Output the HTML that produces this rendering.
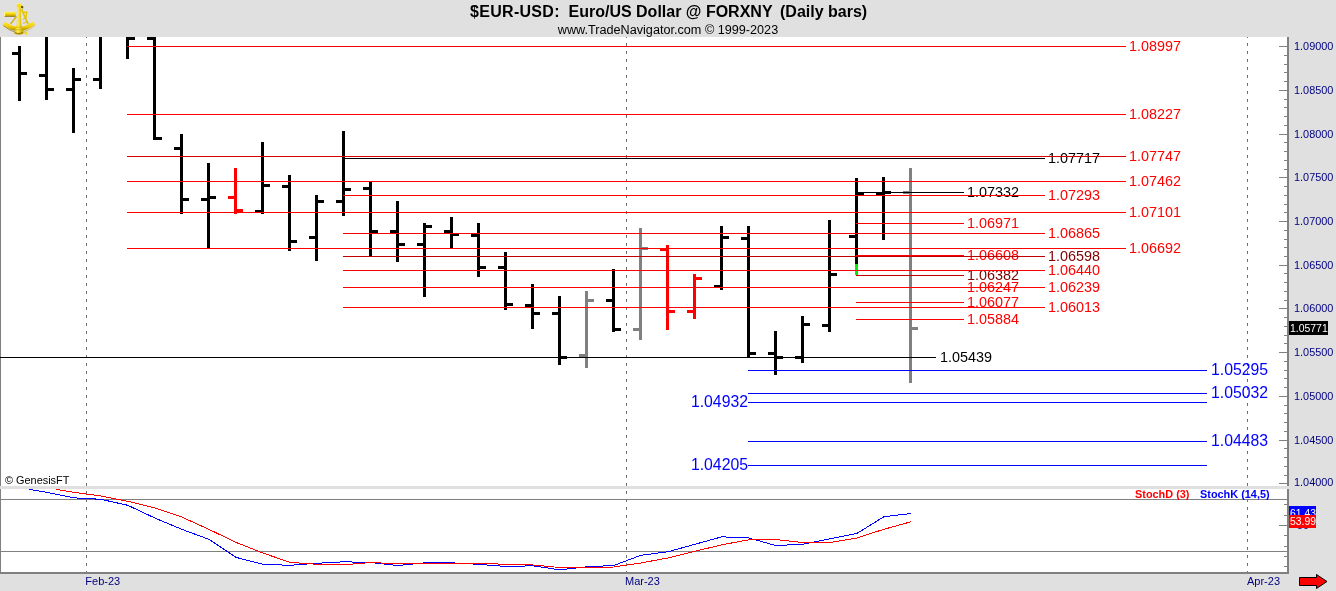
<!DOCTYPE html><html><head><meta charset="utf-8"><title>$EUR-USD Daily</title>
<style>html,body{margin:0;padding:0;background:#e0e0e0;overflow:hidden}svg{display:block}text{font-family:"Liberation Sans",Arial,sans-serif}</style></head><body>
<svg width="1336" height="591" viewBox="0 0 1336 591">
<rect x="0" y="0" width="1336" height="591" fill="#e0e0e0"/>
<rect x="0" y="37" width="1289" height="536" fill="#ffffff"/>
<g shape-rendering="crispEdges">
<rect x="0" y="37" width="1" height="537" fill="#808080"/>
<line x1="86.5" y1="35" x2="86.5" y2="573" stroke="#707070" stroke-width="1" stroke-dasharray="3,5"/>
<line x1="626.5" y1="35" x2="626.5" y2="573" stroke="#707070" stroke-width="1" stroke-dasharray="3,5"/>
<line x1="1247.5" y1="35" x2="1247.5" y2="573" stroke="#707070" stroke-width="1" stroke-dasharray="3,5"/>
<rect x="0" y="0" width="1336" height="37" fill="#e0e0e0"/>
<rect x="1" y="499" width="1286" height="1" fill="#808080"/>
<rect x="1" y="551" width="1286" height="1" fill="#808080"/>
<rect x="18" y="46" width="3" height="55" fill="#000000"/>
<rect x="12" y="52" width="6" height="3" fill="#000000"/>
<rect x="21" y="72" width="6" height="3" fill="#000000"/>
<rect x="45" y="37" width="3" height="63" fill="#000000"/>
<rect x="39" y="74" width="6" height="3" fill="#000000"/>
<rect x="48" y="88" width="6" height="3" fill="#000000"/>
<rect x="72" y="68" width="3" height="65" fill="#000000"/>
<rect x="66" y="88" width="6" height="3" fill="#000000"/>
<rect x="75" y="78" width="6" height="3" fill="#000000"/>
<rect x="99" y="37" width="3" height="52" fill="#000000"/>
<rect x="93" y="78" width="6" height="3" fill="#000000"/>
<rect x="126" y="37" width="3" height="22" fill="#000000"/>
<rect x="129" y="37" width="6" height="3" fill="#000000"/>
<rect x="153" y="37" width="3" height="103" fill="#000000"/>
<rect x="147" y="37" width="6" height="3" fill="#000000"/>
<rect x="156" y="137" width="6" height="3" fill="#000000"/>
<rect x="180" y="134" width="3" height="80" fill="#000000"/>
<rect x="174" y="147" width="6" height="3" fill="#000000"/>
<rect x="183" y="198" width="6" height="3" fill="#000000"/>
<rect x="207" y="163" width="3" height="85" fill="#000000"/>
<rect x="201" y="198" width="6" height="3" fill="#000000"/>
<rect x="210" y="196" width="6" height="3" fill="#000000"/>
<rect x="234" y="168" width="3" height="46" fill="#ff0000"/>
<rect x="228" y="196" width="6" height="3" fill="#ff0000"/>
<rect x="237" y="209" width="6" height="3" fill="#ff0000"/>
<rect x="261" y="142" width="3" height="72" fill="#000000"/>
<rect x="255" y="210" width="6" height="3" fill="#000000"/>
<rect x="264" y="184" width="6" height="3" fill="#000000"/>
<rect x="288" y="175" width="3" height="76" fill="#000000"/>
<rect x="282" y="185" width="6" height="3" fill="#000000"/>
<rect x="291" y="240" width="6" height="3" fill="#000000"/>
<rect x="315" y="195" width="3" height="66" fill="#000000"/>
<rect x="309" y="236" width="6" height="3" fill="#000000"/>
<rect x="318" y="200" width="6" height="3" fill="#000000"/>
<rect x="342" y="131" width="3" height="85" fill="#000000"/>
<rect x="336" y="200" width="6" height="3" fill="#000000"/>
<rect x="345" y="188" width="6" height="3" fill="#000000"/>
<rect x="369" y="182" width="3" height="74" fill="#000000"/>
<rect x="363" y="187" width="6" height="3" fill="#000000"/>
<rect x="372" y="230" width="6" height="3" fill="#000000"/>
<rect x="396" y="201" width="3" height="61" fill="#000000"/>
<rect x="390" y="230" width="6" height="3" fill="#000000"/>
<rect x="399" y="243" width="6" height="3" fill="#000000"/>
<rect x="423" y="223" width="3" height="74" fill="#000000"/>
<rect x="417" y="243" width="6" height="3" fill="#000000"/>
<rect x="426" y="225" width="6" height="3" fill="#000000"/>
<rect x="450" y="217" width="3" height="31" fill="#000000"/>
<rect x="444" y="230" width="6" height="3" fill="#000000"/>
<rect x="453" y="233" width="6" height="3" fill="#000000"/>
<rect x="477" y="223" width="3" height="54" fill="#000000"/>
<rect x="471" y="234" width="6" height="3" fill="#000000"/>
<rect x="480" y="266" width="6" height="3" fill="#000000"/>
<rect x="504" y="252" width="3" height="58" fill="#000000"/>
<rect x="498" y="266" width="6" height="3" fill="#000000"/>
<rect x="507" y="303" width="6" height="3" fill="#000000"/>
<rect x="531" y="284" width="3" height="45" fill="#000000"/>
<rect x="525" y="304" width="6" height="3" fill="#000000"/>
<rect x="534" y="312" width="6" height="3" fill="#000000"/>
<rect x="558" y="296" width="3" height="69" fill="#000000"/>
<rect x="552" y="312" width="6" height="3" fill="#000000"/>
<rect x="561" y="356" width="6" height="3" fill="#000000"/>
<rect x="585" y="291" width="3" height="77" fill="#808080"/>
<rect x="579" y="354" width="6" height="3" fill="#808080"/>
<rect x="588" y="299" width="6" height="3" fill="#808080"/>
<rect x="612" y="269" width="3" height="63" fill="#000000"/>
<rect x="606" y="299" width="6" height="3" fill="#000000"/>
<rect x="615" y="328" width="6" height="3" fill="#000000"/>
<rect x="639" y="228" width="3" height="112" fill="#808080"/>
<rect x="633" y="328" width="6" height="3" fill="#808080"/>
<rect x="642" y="247" width="6" height="3" fill="#808080"/>
<rect x="666" y="245" width="3" height="85" fill="#ff0000"/>
<rect x="660" y="248" width="6" height="3" fill="#ff0000"/>
<rect x="669" y="310" width="6" height="3" fill="#ff0000"/>
<rect x="693" y="274" width="3" height="45" fill="#ff0000"/>
<rect x="687" y="310" width="6" height="3" fill="#ff0000"/>
<rect x="696" y="277" width="6" height="3" fill="#ff0000"/>
<rect x="720" y="226" width="3" height="64" fill="#000000"/>
<rect x="714" y="285" width="6" height="3" fill="#000000"/>
<rect x="723" y="236" width="6" height="3" fill="#000000"/>
<rect x="747" y="226" width="3" height="132" fill="#000000"/>
<rect x="741" y="237" width="6" height="3" fill="#000000"/>
<rect x="750" y="352" width="6" height="3" fill="#000000"/>
<rect x="774" y="331" width="3" height="44" fill="#000000"/>
<rect x="768" y="352" width="6" height="3" fill="#000000"/>
<rect x="777" y="356" width="6" height="3" fill="#000000"/>
<rect x="801" y="316" width="3" height="47" fill="#000000"/>
<rect x="795" y="356" width="6" height="3" fill="#000000"/>
<rect x="804" y="323" width="6" height="3" fill="#000000"/>
<rect x="828" y="220" width="3" height="112" fill="#000000"/>
<rect x="822" y="324" width="6" height="3" fill="#000000"/>
<rect x="831" y="273" width="6" height="3" fill="#000000"/>
<rect x="855" y="178" width="3" height="97" fill="#000000"/>
<rect x="849" y="235" width="6" height="3" fill="#000000"/>
<rect x="858" y="192" width="6" height="3" fill="#000000"/>
<rect x="882" y="177" width="3" height="63" fill="#000000"/>
<rect x="876" y="192" width="6" height="3" fill="#000000"/>
<rect x="885" y="191" width="6" height="3" fill="#000000"/>
<rect x="909" y="168" width="3" height="215" fill="#808080"/>
<rect x="903" y="191" width="6" height="3" fill="#808080"/>
<rect x="912" y="327" width="6" height="3" fill="#808080"/>
<rect x="855" y="264" width="3" height="11" fill="#00f000"/>
</g>
<text x="1129" y="51.2" font-size="15" textLength="52.05" lengthAdjust="spacingAndGlyphs" fill="#ff0000">1.08997</text>
<text x="1129" y="119.2" font-size="15" textLength="52.05" lengthAdjust="spacingAndGlyphs" fill="#ff0000">1.08227</text>
<text x="1048" y="163.2" font-size="15" textLength="52.05" lengthAdjust="spacingAndGlyphs" fill="#000000">1.07717</text>
<text x="1129" y="161.2" font-size="15" textLength="52.05" lengthAdjust="spacingAndGlyphs" fill="#ff0000">1.07747</text>
<text x="1129" y="186.2" font-size="15" textLength="52.05" lengthAdjust="spacingAndGlyphs" fill="#ff0000">1.07462</text>
<text x="967" y="197.2" font-size="15" textLength="52.05" lengthAdjust="spacingAndGlyphs" fill="#000000">1.07332</text>
<text x="1048" y="200.2" font-size="15" textLength="52.05" lengthAdjust="spacingAndGlyphs" fill="#ff0000">1.07293</text>
<text x="1129" y="217.2" font-size="15" textLength="52.05" lengthAdjust="spacingAndGlyphs" fill="#ff0000">1.07101</text>
<text x="967" y="228.2" font-size="15" textLength="52.05" lengthAdjust="spacingAndGlyphs" fill="#ff0000">1.06971</text>
<text x="1048" y="238.2" font-size="15" textLength="52.05" lengthAdjust="spacingAndGlyphs" fill="#ff0000">1.06865</text>
<text x="1129" y="253.2" font-size="15" textLength="52.05" lengthAdjust="spacingAndGlyphs" fill="#ff0000">1.06692</text>
<text x="967" y="260.2" font-size="15" textLength="52.05" lengthAdjust="spacingAndGlyphs" fill="#ff0000">1.06608</text>
<text x="1048" y="261.2" font-size="15" textLength="52.05" lengthAdjust="spacingAndGlyphs" fill="#800000">1.06598</text>
<text x="1048" y="275.2" font-size="15" textLength="52.05" lengthAdjust="spacingAndGlyphs" fill="#ff0000">1.06440</text>
<text x="967" y="280.2" font-size="15" textLength="52.05" lengthAdjust="spacingAndGlyphs" fill="#800000">1.06382</text>
<text x="967" y="292.2" font-size="15" textLength="52.05" lengthAdjust="spacingAndGlyphs" fill="#ff0000">1.06247</text>
<text x="1048" y="292.2" font-size="15" textLength="52.05" lengthAdjust="spacingAndGlyphs" fill="#ff0000">1.06239</text>
<text x="967" y="307.2" font-size="15" textLength="52.05" lengthAdjust="spacingAndGlyphs" fill="#ff0000">1.06077</text>
<text x="1048" y="312.2" font-size="15" textLength="52.05" lengthAdjust="spacingAndGlyphs" fill="#ff0000">1.06013</text>
<text x="967" y="324.2" font-size="15" textLength="52.05" lengthAdjust="spacingAndGlyphs" fill="#ff0000">1.05884</text>
<text x="940" y="362.2" font-size="15" textLength="52.05" lengthAdjust="spacingAndGlyphs" fill="#000000">1.05439</text>
<text x="1211" y="375.4" font-size="15.8" fill="#0000ff">1.05295</text>
<text x="1211" y="398.4" font-size="15.8" fill="#0000ff">1.05032</text>
<text x="748" y="407.4" font-size="15.8" fill="#0000ff" text-anchor="end">1.04932</text>
<text x="1211" y="446.4" font-size="15.8" fill="#0000ff">1.04483</text>
<text x="748" y="470.4" font-size="15.8" fill="#0000ff" text-anchor="end">1.04205</text>
<g shape-rendering="crispEdges">
<rect x="127" y="46" width="999" height="1" fill="#ff0000"/>
<rect x="127" y="114" width="999" height="1" fill="#ff0000"/>
<rect x="343" y="158" width="702" height="1" fill="#000000"/>
<rect x="127" y="156" width="999" height="1" fill="#d40000"/>
<rect x="127" y="181" width="999" height="1" fill="#ff0000"/>
<rect x="856" y="192" width="108" height="1" fill="#000000"/>
<rect x="343" y="195" width="702" height="1" fill="#ff0000"/>
<rect x="127" y="212" width="999" height="1" fill="#ff0000"/>
<rect x="856" y="223" width="108" height="1" fill="#ff0000"/>
<rect x="343" y="233" width="702" height="1" fill="#ff0000"/>
<rect x="127" y="248" width="999" height="1" fill="#ff0000"/>
<rect x="856" y="255" width="108" height="1" fill="#ff0000"/>
<rect x="343" y="256" width="702" height="1" fill="#c00000"/>
<rect x="343" y="270" width="702" height="1" fill="#ff0000"/>
<rect x="856" y="275" width="108" height="1" fill="#c00000"/>
<rect x="856" y="287" width="108" height="1" fill="#ff0000"/>
<rect x="343" y="287" width="702" height="1" fill="#ff0000"/>
<rect x="856" y="302" width="108" height="1" fill="#ff0000"/>
<rect x="343" y="307" width="702" height="1" fill="#ff0000"/>
<rect x="856" y="319" width="108" height="1" fill="#ff0000"/>
<rect x="0" y="357" width="936" height="1" fill="#000000"/>
<rect x="748" y="370" width="459" height="1" fill="#0000ff"/>
<rect x="748" y="393" width="459" height="1" fill="#0000ff"/>
<rect x="748" y="402" width="459" height="1" fill="#0000ff"/>
<rect x="748" y="441" width="459" height="1" fill="#0000ff"/>
<rect x="748" y="465" width="459" height="1" fill="#0000ff"/>
<rect x="1287" y="37" width="2" height="537" fill="#808080"/>
<rect x="0" y="486" width="1289" height="3" fill="#e0e0e0"/>
<rect x="0" y="572" width="1289" height="2" fill="#808080"/>
<rect x="1279" y="483" width="8" height="1" fill="#808080"/>
<rect x="1284" y="475" width="3" height="1" fill="#808080"/>
<rect x="1284" y="466" width="3" height="1" fill="#808080"/>
<rect x="1284" y="457" width="3" height="1" fill="#808080"/>
<rect x="1284" y="448" width="3" height="1" fill="#808080"/>
<rect x="1279" y="440" width="8" height="1" fill="#808080"/>
<rect x="1284" y="431" width="3" height="1" fill="#808080"/>
<rect x="1284" y="422" width="3" height="1" fill="#808080"/>
<rect x="1284" y="413" width="3" height="1" fill="#808080"/>
<rect x="1284" y="405" width="3" height="1" fill="#808080"/>
<rect x="1279" y="396" width="8" height="1" fill="#808080"/>
<rect x="1284" y="387" width="3" height="1" fill="#808080"/>
<rect x="1284" y="378" width="3" height="1" fill="#808080"/>
<rect x="1284" y="370" width="3" height="1" fill="#808080"/>
<rect x="1284" y="361" width="3" height="1" fill="#808080"/>
<rect x="1279" y="352" width="8" height="1" fill="#808080"/>
<rect x="1284" y="343" width="3" height="1" fill="#808080"/>
<rect x="1284" y="335" width="3" height="1" fill="#808080"/>
<rect x="1284" y="326" width="3" height="1" fill="#808080"/>
<rect x="1284" y="317" width="3" height="1" fill="#808080"/>
<rect x="1279" y="308" width="8" height="1" fill="#808080"/>
<rect x="1284" y="300" width="3" height="1" fill="#808080"/>
<rect x="1284" y="291" width="3" height="1" fill="#808080"/>
<rect x="1284" y="282" width="3" height="1" fill="#808080"/>
<rect x="1284" y="273" width="3" height="1" fill="#808080"/>
<rect x="1279" y="265" width="8" height="1" fill="#808080"/>
<rect x="1284" y="256" width="3" height="1" fill="#808080"/>
<rect x="1284" y="247" width="3" height="1" fill="#808080"/>
<rect x="1284" y="239" width="3" height="1" fill="#808080"/>
<rect x="1284" y="230" width="3" height="1" fill="#808080"/>
<rect x="1279" y="221" width="8" height="1" fill="#808080"/>
<rect x="1284" y="212" width="3" height="1" fill="#808080"/>
<rect x="1284" y="204" width="3" height="1" fill="#808080"/>
<rect x="1284" y="195" width="3" height="1" fill="#808080"/>
<rect x="1284" y="186" width="3" height="1" fill="#808080"/>
<rect x="1279" y="177" width="8" height="1" fill="#808080"/>
<rect x="1284" y="169" width="3" height="1" fill="#808080"/>
<rect x="1284" y="160" width="3" height="1" fill="#808080"/>
<rect x="1284" y="151" width="3" height="1" fill="#808080"/>
<rect x="1284" y="142" width="3" height="1" fill="#808080"/>
<rect x="1279" y="134" width="8" height="1" fill="#808080"/>
<rect x="1284" y="125" width="3" height="1" fill="#808080"/>
<rect x="1284" y="116" width="3" height="1" fill="#808080"/>
<rect x="1284" y="107" width="3" height="1" fill="#808080"/>
<rect x="1284" y="99" width="3" height="1" fill="#808080"/>
<rect x="1279" y="90" width="8" height="1" fill="#808080"/>
<rect x="1284" y="81" width="3" height="1" fill="#808080"/>
<rect x="1284" y="72" width="3" height="1" fill="#808080"/>
<rect x="1284" y="64" width="3" height="1" fill="#808080"/>
<rect x="1284" y="55" width="3" height="1" fill="#808080"/>
<rect x="1279" y="46" width="8" height="1" fill="#808080"/>
<rect x="1284" y="504" width="3" height="1" fill="#808080"/>
<rect x="1284" y="515" width="3" height="1" fill="#808080"/>
<rect x="1279" y="525" width="8" height="1" fill="#808080"/>
<rect x="1284" y="535" width="3" height="1" fill="#808080"/>
<rect x="1284" y="546" width="3" height="1" fill="#808080"/>
<rect x="1284" y="556" width="3" height="1" fill="#808080"/>
<rect x="1284" y="566" width="3" height="1" fill="#808080"/>
</g>
<polyline transform="translate(0.8,0.3)" points="28,489 46,492 73,497.5 100,499 127,505 154,517.7 181,529 208,539 235,557 262,564 289,565 316,563 343,561.5 370,562.2 397,565.2 424,562.5 451,562.5 478,564 505,566.2 532,565.5 559,569.5 586,566.5 613,565.2 640,555 667,551.5 694,544 721,536.5 748,537.7 775,545.2 802,544 829,538.5 856,533.2 883,516.5 910,513.2" fill="none" stroke="#0000ff" stroke-width="1" shape-rendering="crispEdges"/>
<polyline transform="translate(0.8,0.3)" points="55,489 73,492 100,495.7 127,501 154,507.7 181,516.7 208,529 235,542 262,552.7 289,562 316,564 343,564.5 370,562.2 397,563.5 424,563.5 451,563 478,563 505,564 532,564.7 559,567.2 586,567.5 613,566.7 640,562.7 667,557.7 694,551 721,544.5 748,539.5 775,539.2 802,542.2 829,542.2 856,537.7 883,529 910,521.5" fill="none" stroke="#ff0000" stroke-width="1" shape-rendering="crispEdges"/>
<text x="1294" y="486.1" font-size="10.9" fill="#000080">1.04000</text>
<text x="1294" y="444.4" font-size="10.9" fill="#000080">1.04500</text>
<text x="1294" y="400.4" font-size="10.9" fill="#000080">1.05000</text>
<text x="1294" y="356.4" font-size="10.9" fill="#000080">1.05500</text>
<text x="1294" y="312.4" font-size="10.9" fill="#000080">1.06000</text>
<text x="1294" y="269.4" font-size="10.9" fill="#000080">1.06500</text>
<text x="1294" y="225.4" font-size="10.9" fill="#000080">1.07000</text>
<text x="1294" y="181.4" font-size="10.9" fill="#000080">1.07500</text>
<text x="1294" y="138.4" font-size="10.9" fill="#000080">1.08000</text>
<text x="1294" y="94.4" font-size="10.9" fill="#000080">1.08500</text>
<text x="1294" y="50.4" font-size="10.9" fill="#000080">1.09000</text>
<rect x="1289" y="321" width="39" height="14" fill="#000" shape-rendering="crispEdges"/>
<text x="1290" y="331.6" font-size="10.45" fill="#fff">1.05771</text>
<rect x="1289" y="506" width="27" height="13" fill="#0000ff" shape-rendering="crispEdges"/>
<text x="1290" y="516.5" font-size="10.4" fill="#fff">61.43</text>
<text x="1297" y="529" font-size="10.67" fill="#000080">50</text>
<rect x="1289" y="515" width="27" height="13" fill="#ff0000" shape-rendering="crispEdges"/>
<text x="1290" y="524.7" font-size="10.4" fill="#fff">53.99</text>
<text y="17" font-size="16" font-weight="bold" fill="#000"><tspan x="470" letter-spacing="0.3">$EUR-USD: </tspan><tspan x="568.5"> Euro/US Dollar @ FORXNY </tspan><tspan x="780"> (Daily bars)</tspan></text>
<text x="668" y="34" font-size="12.65" fill="#000" text-anchor="middle">www.TradeNavigator.com © 1999-2023</text>
<text x="5" y="483.7" font-size="10.9" fill="#000">© GenesisFT</text>
<text x="85.3" y="585" font-size="11" fill="#000080">Feb-23</text>
<text x="625" y="585" font-size="11" fill="#000080">Mar-23</text>
<text x="1247" y="585" font-size="11" fill="#000080">Apr-23</text>
<text x="1135" y="497.7" font-size="10.9" font-weight="bold" fill="#ff0000">StochD (3)</text>
<text x="1200" y="497.7" font-size="10.9" font-weight="bold" fill="#0000ff">StochK (14,5)</text>
<polygon points="1299.5,577.5 1316.5,577.5 1316.5,574.5 1327,581.5 1316.5,588.5 1316.5,585.5 1299.5,585.5" fill="#ff0000" stroke="#000" stroke-width="1"/>
<defs>
<linearGradient id="gv" x1="0" y1="0" x2="0" y2="1"><stop offset="0" stop-color="#fff27a"/><stop offset="0.4" stop-color="#f6d800"/><stop offset="0.8" stop-color="#c8a000"/><stop offset="1" stop-color="#6e5400"/></linearGradient>
<linearGradient id="gh" x1="0" y1="0" x2="1" y2="0"><stop offset="0" stop-color="#e0bc00"/><stop offset="0.4" stop-color="#ffee50"/><stop offset="1" stop-color="#c09c00"/></linearGradient>
<linearGradient id="ga" x1="0" y1="0" x2="0" y2="1"><stop offset="0" stop-color="#ffea38"/><stop offset="0.55" stop-color="#f0cc00"/><stop offset="1" stop-color="#a08000"/></linearGradient>
</defs>
<g id="logo">
<path d="M10.5,24 L16.5,16.5" stroke="#d8b400" stroke-width="1.4" fill="none"/>
<path d="M21.5,9 L28.2,24.5" stroke="#e2c000" stroke-width="1.7" fill="none"/>
<path d="M23,12.5 L26.8,12 L26,17.5" stroke="#e6c800" stroke-width="1.3" fill="none"/>
<path d="M22.8,19.5 L26.5,17.5 M23,23.5 L27.5,21.5" stroke="#e0bc00" stroke-width="1" fill="none"/>
<path d="M2.9,25 L5.2,21.8 Q19,32 32.8,21.6 L35.1,24.6 Q19,37.6 2.9,25 Z" fill="url(#ga)"/>
<path d="M3.2,25.6 Q10,31 16,32.4" stroke="#7a6000" stroke-width="0.8" fill="none" opacity="0.75"/>
<path d="M23,32 Q30,30 34.8,25.4" stroke="#b89400" stroke-width="0.7" fill="none" opacity="0.7"/>
<rect x="4" y="11.8" width="11.8" height="5" rx="0.8" fill="url(#gv)"/>
<rect x="4" y="11.9" width="1.2" height="4.6" rx="0.5" fill="#fff38a"/>
<path d="M17.7,6.5 L20.9,6.5 L21.2,24 L23.4,33.2 Q19,35.6 14.4,33.4 L16.7,24 Z" fill="url(#gh)"/>
<path d="M14.4,33.2 Q19,35.8 23.4,33.2 L23.2,31.8 Q19,34 14.7,32 Z" fill="#a88600"/>
<path d="M16.3,27.3 L21.8,27.3 M15.8,29.6 L22.4,29.6" stroke="#c8a400" stroke-width="0.6"/>
<path d="M16.4,5.2 L19.2,2.6 L22,5.2 L21.2,7.4 L17.2,7.4 Z" fill="#f6dc10"/>
<path d="M21.2,5.8 L23.4,6.6 L23,8.6 L21,7.8 Z" fill="#5e4800"/>
<path d="M17.2,4.6 L19.2,3 L20,4.2" stroke="#fff6a0" stroke-width="0.6" fill="none"/>
<path d="M23.2,33 L27,33" stroke="#e8cc10" stroke-width="1.2"/>
<rect x="26" y="31.6" width="1.1" height="3.2" fill="#f0d420"/>
</g>

</svg></body></html>
